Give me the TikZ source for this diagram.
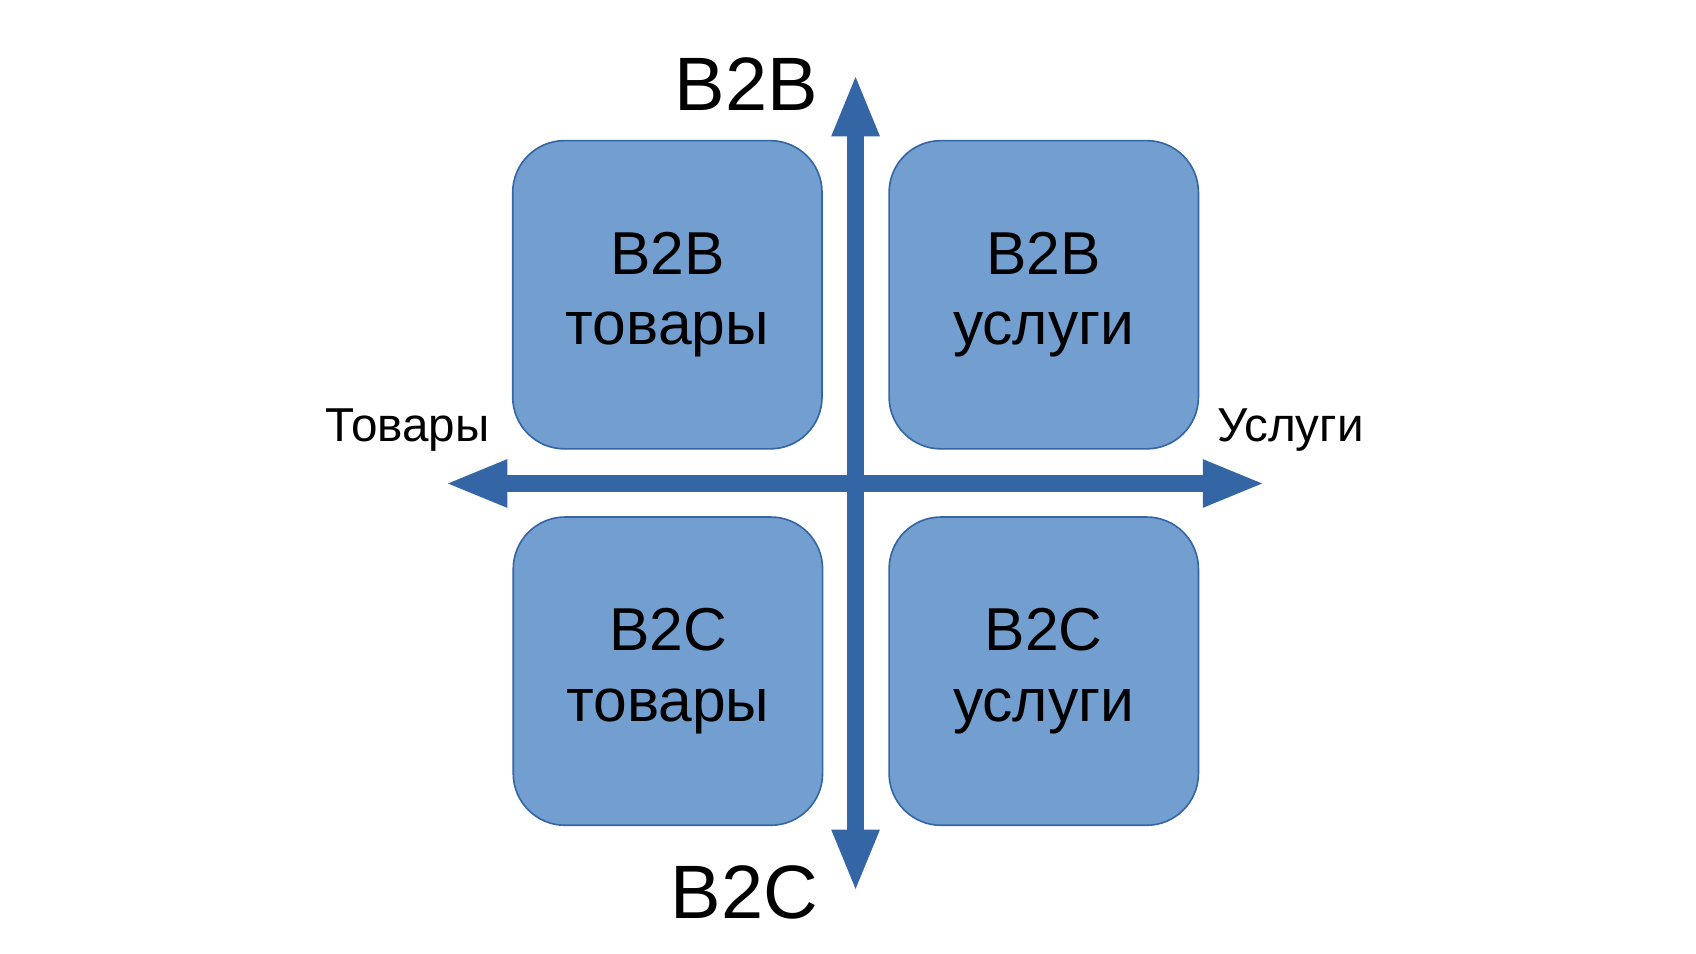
\documentclass[tikz,border=0pt]{standalone}
\usepackage{fontspec}
\setmainfont{Liberation Sans}
\usetikzlibrary{arrows.meta}
\definecolor{boxfill}{RGB}{114,159,207}
\definecolor{boxline}{RGB}{52,101,164}
\definecolor{axis}{RGB}{52,101,164}
\tikzset{
  quad/.style={draw=boxline,line width=1.5pt,fill=boxfill,rounded corners=48pt,minimum width=286pt,minimum height=285pt,align=center,inner sep=0pt,font=\fontsize{56}{65}\selectfont},
  axisarrow/.style={draw=axis,line width=16pt,-{Triangle[length=58pt,width=40pt]}},
  lbl/.style={inner sep=0pt}
}
\begin{document}
\begin{tikzpicture}[x=1pt,y=-1pt]
\useasboundingbox (0,0) rectangle (1568,882);
\node[quad] (tl) at (617,272.5) {B2B\\товары};
\node[quad] (tr) at (965,272.5) {B2B\\услуги};
\node[quad] (bl) at (617.5,620.5) {B2C\\товары};
\node[quad] (br) at (965,620.5) {B2C\\услуги};
\coordinate (c) at (791,447);
\coordinate (top) at (791,68);
\coordinate (bot) at (791,825);
\coordinate (lft) at (411,447);
\coordinate (rgt) at (1170,447);
\draw[axisarrow] (c) -- (top);
\draw[axisarrow] (c) -- (bot);
\draw[axisarrow] (c) -- (lft);
\draw[axisarrow] (c) -- (rgt);
\node[lbl,font=\fontsize{70}{70}\selectfont] (b2b) at (690,78) {B2B};
\node[lbl,font=\fontsize{70}{70}\selectfont] (b2c) at (688,825) {B2C};
\node[lbl,font=\fontsize{44}{44}\selectfont] (tov) at (377,398) {Товары};
\node[lbl,font=\fontsize{44}{44}\selectfont] (usl) at (1193,398) {Услуги};
\end{tikzpicture}
\end{document}
